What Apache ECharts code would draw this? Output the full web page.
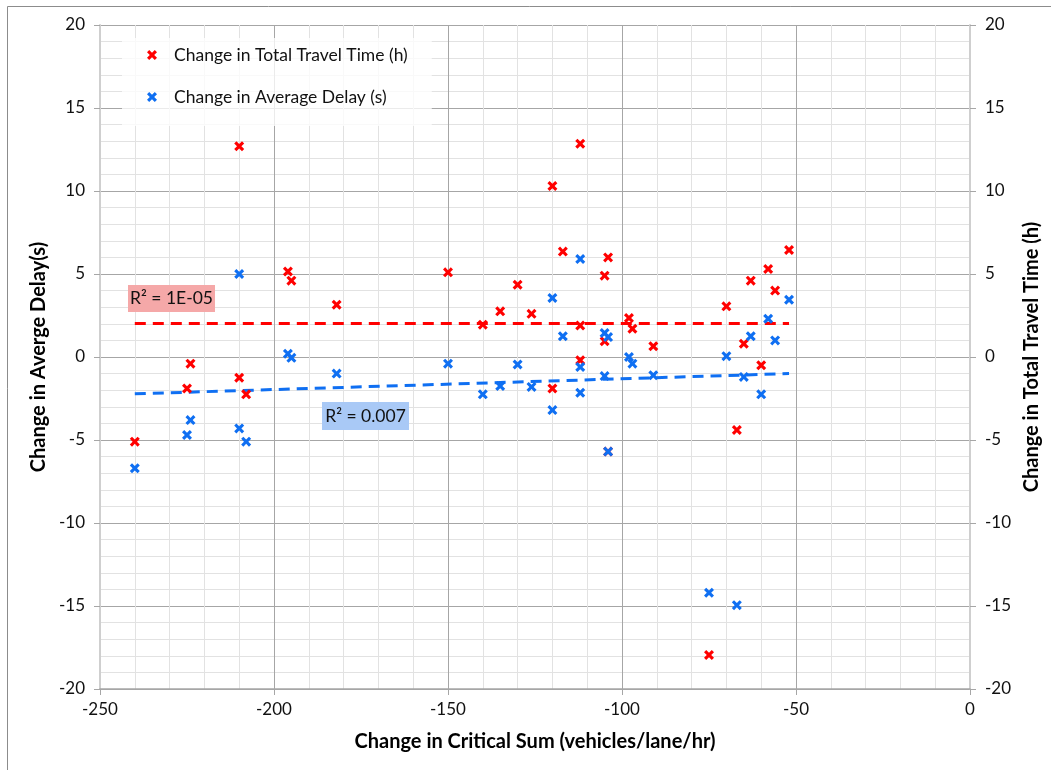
<!DOCTYPE html>
<html><head><meta charset="utf-8">
<script src="https://cdn.jsdelivr.net/npm/echarts@6/dist/echarts.min.js"></script>
<style>html,body{margin:0;padding:0;background:#fff}#c{width:1051px;height:770px}</style>
</head><body><div id="c"></div>
<script>
// Change in Critical Sum (vehicles/lane/hr)
const critSum = [-240,-225,-224,-210,-210,-208,-196,-195,-182,-150,-140,-135,-130,-126,-120,-120,-117,-112,-112,-112,-105,-104,-105,-104,-98,-97,-91,-75,-70,-67,-65,-63,-60,-58,-56,-52];
// Change in Total Travel Time (h)
const travelTime = [-5.1,-1.9,-0.4,12.7,-1.25,-2.25,5.15,4.6,3.15,5.1,1.95,2.75,4.35,2.6,10.3,-1.9,6.35,12.85,1.9,-0.2,4.9,6.0,0.95,-5.7,2.35,1.7,0.65,-17.95,3.05,-4.4,0.8,4.6,-0.5,5.3,4.0,6.45];
// Change in Average Delay (s)
const avgDelay = [-6.7,-4.7,-3.8,5.0,-4.3,-5.1,0.2,-0.05,-1.0,-0.4,-2.25,-1.75,-0.45,-1.8,3.55,-3.2,1.25,5.9,-0.6,-2.15,1.45,1.2,-1.15,-5.7,0.0,-0.4,-1.1,-14.2,0.05,-14.95,-1.2,1.25,-2.25,2.3,1.0,3.45];
// Linear trend lines (endpoints)
const trendX = [-240, -52];
const trendTravel = [2.02, 2.02];
const trendDelay = [-2.22, -1.0];
const seriesNames = ['Change in Total Travel Time (h)', 'Change in Average Delay (s)'];
const r2Labels = ['R² = 1E-05', 'R² = 0.007'];

const RED = '#ff0000', BLUE = '#0f6ff2';
const FONT = 'Lato';
const XSYM = 'path://M0,2.2 L2.2,0 L5,2.8 L7.8,0 L10,2.2 L7.2,5 L10,7.8 L7.8,10 L5,7.2 L2.2,10 L0,7.8 L2.8,5 Z';

const pts = (xs, ys) => xs.map((x, i) => [x, ys[i]]);

const yAxisBase = (pos, name, gap) => ({
  type: 'value', position: pos, min: -20, max: 20, interval: 5,
  name: name, nameLocation: 'middle', nameGap: gap, nameRotate: 90,
  nameTextStyle: {fontFamily: FONT, fontWeight: 'bold', fontSize: 20, color: '#000'},
  axisLine: {show: true, onZero: false, lineStyle: {color: '#cfcfcf', width: 2}},
  axisTick: {show: true, length: 6, lineStyle: {color: '#a6a6a6'}},
  axisLabel: {fontFamily: FONT, fontSize: 17, color: '#111', margin: 15},
  splitLine: {show: pos === 'left', lineStyle: {color: '#a6a6a6', width: 1}},
  minorTick: {show: false, splitNumber: 5},
  minorSplitLine: {show: pos === 'left', lineStyle: {color: '#e2e2e2', width: 1}}
});

const chart = echarts.init(document.getElementById('c'));
chart.setOption({
  backgroundColor: '#fff',
  animation: false,
  grid: {left: 100, right: 81, top: 25, bottom: 81},
  legend: {
    orient: 'vertical', left: 122, top: 38,
    padding: [8, 24, 20, 25], itemGap: 24,
    itemWidth: 10, itemHeight: 10,
    backgroundColor: 'rgba(255,255,255,0.78)',
    data: seriesNames,
    textStyle: {fontFamily: FONT, fontSize: 17.5, color: '#111', padding: [0, 0, 0, 12]}
  },
  xAxis: {
    type: 'value', min: -250, max: 0, interval: 50,
    name: 'Change in Critical Sum (vehicles/lane/hr)', nameLocation: 'middle', nameGap: 43,
    nameTextStyle: {fontFamily: FONT, fontWeight: 'bold', fontSize: 20, color: '#000'},
    axisLine: {show: true, onZero: false, lineStyle: {color: '#a6a6a6', width: 1.5}},
    axisTick: {show: true, length: 6, lineStyle: {color: '#a6a6a6'}},
    axisLabel: {fontFamily: FONT, fontSize: 17, color: '#111', margin: 12},
    splitLine: {show: true, lineStyle: {color: '#a6a6a6', width: 1}},
    minorTick: {show: false, splitNumber: 5},
    minorSplitLine: {show: true, lineStyle: {color: '#e2e2e2', width: 1}}
  },
  yAxis: [
    yAxisBase('left', 'Change in Averge Delay(s)', 45),
    yAxisBase('right', 'Change in Total Travel Time (h)', 47)
  ],
  series: [
    {type: 'line', name: 'trendTravel', yAxisIndex: 1, data: pts(trendX, trendTravel), showSymbol: false, symbol: 'none',
     lineStyle: {color: RED, width: 3, type: [11, 7]}, z: 1, silent: true},
    {type: 'line', name: 'trendDelay', yAxisIndex: 0, data: pts(trendX, trendDelay), showSymbol: false, symbol: 'none',
     lineStyle: {color: BLUE, width: 3, type: [11, 7]}, z: 1, silent: true},
    {type: 'scatter', name: seriesNames[0], yAxisIndex: 1, data: pts(critSum, travelTime),
     symbol: XSYM, symbolSize: 10, itemStyle: {color: RED, opacity: 1}, z: 3},
    {type: 'scatter', name: seriesNames[1], yAxisIndex: 0, data: pts(critSum, avgDelay),
     symbol: XSYM, symbolSize: 10, itemStyle: {color: BLUE, opacity: 1}, z: 4}
  ],
  graphic: [
    {type: 'rect', shape: {x: 7.5, y: 6.5, width: 1200, height: 900}, style: {fill: 'none', stroke: '#8c8c8c', lineWidth: 1}, silent: true, z: 0},
    {type: 'rect', shape: {x: 128, y: 285, width: 87, height: 27}, style: {fill: '#f5a8a8'}, z: 10},
    {type: 'text', x: 171.5, y: 298.5, style: {text: r2Labels[0], fontFamily: FONT, fontSize: 17.5, fill: '#111', align: 'center', verticalAlign: 'middle'}, z: 11},
    {type: 'rect', shape: {x: 322, y: 402, width: 87, height: 28}, style: {fill: '#a9c9f6'}, z: 10},
    {type: 'text', x: 365.5, y: 416, style: {text: r2Labels[1], fontFamily: FONT, fontSize: 17.5, fill: '#111', align: 'center', verticalAlign: 'middle'}, z: 11}
  ]
});
</script>
</body></html>
